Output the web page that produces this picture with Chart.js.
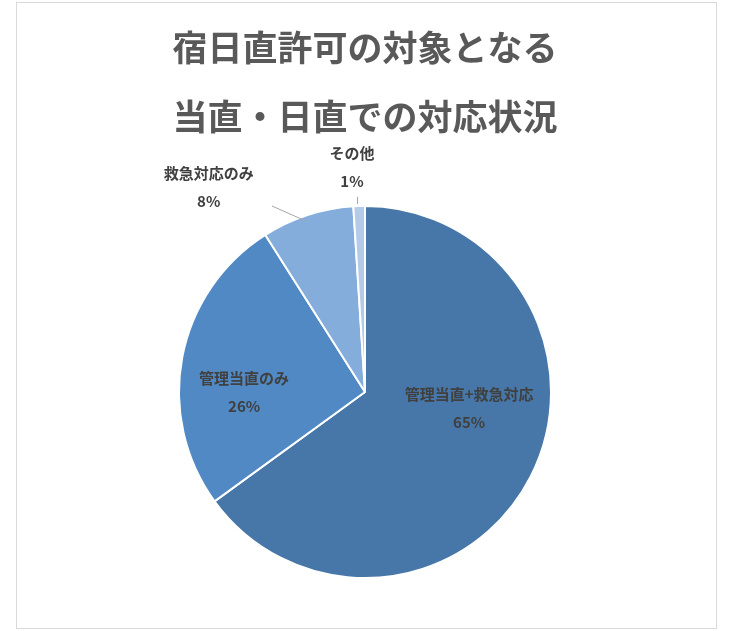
<!DOCTYPE html>
<html><head><meta charset="utf-8">
<script src="https://cdn.jsdelivr.net/npm/chart.js@4"></script>
<style>
html,body{margin:0;padding:0;background:#fff}
#wrap{position:absolute;left:0;top:0;width:735px;height:631px}
#frame{position:absolute;left:16px;top:2px;width:699px;height:625px;border:1px solid #d9d9d9}
</style></head><body>
<div id="frame"></div>
<div id="wrap"><canvas id="c"></canvas></div>
<script>
const titleLines = ['宿日直許可の対象となる', '当直・日直での対応状況'];
const categories = ['管理当直+救急対応', '管理当直のみ', '救急対応のみ', 'その他'];
const values = [65, 26, 8, 1];
const colors = ['#4677A8', '#5089C4', '#84ADDC', '#B4CAE9'];
// label anchors relative to pie centre, in radius units (dx, dy), plus optional leader
const labelPos = [
  { dx: 0.56, dy: 0.09 },
  { dx: -0.65, dy: 0.0 },
  { dx: -0.84, dy: -1.1, leader: [[-0.50, -1.0], [-0.32, -0.92]] },
  { dx: -0.07, dy: -1.21, leader: [[-0.04, -1.05], [-0.04, -1.01]] }
];
const font = '"Noto Sans CJK JP", "Noto Sans", sans-serif';

const labelPlugin = {
  id: 'labels',
  afterDraw(chart) {
    const ctx = chart.ctx;
    ctx.save();
    ctx.fillStyle = '#595959';
    ctx.textAlign = 'center';
    ctx.textBaseline = 'middle';
    ctx.font = 'bold 35px ' + font;
    ctx.fillText(titleLines[0], 365, 48);
    ctx.fillText(titleLines[1], 365, 117);
    const arc = chart.getDatasetMeta(0).data[0];
    const cx = arc.x, cy = arc.y, r = arc.outerRadius;
    ctx.font = 'bold 15px ' + font;
    ctx.fillStyle = '#404040';
    categories.forEach((cat, i) => {
      const p = labelPos[i];
      const x = cx + p.dx * r, y = cy + p.dy * r;
      ctx.fillText(cat, x, y - 14);
      ctx.fillText(values[i] + '%', x, y + 14);
      if (p.leader) {
        ctx.strokeStyle = '#a6a6a6';
        ctx.lineWidth = 1;
        ctx.beginPath();
        ctx.moveTo(cx + p.leader[0][0] * r, cy + p.leader[0][1] * r);
        ctx.lineTo(cx + p.leader[1][0] * r, cy + p.leader[1][1] * r);
        ctx.stroke();
      }
    });
    ctx.restore();
  }
};

new Chart(document.getElementById('c'), {
  type: 'pie',
  data: {
    labels: categories,
    datasets: [{ data: values, backgroundColor: colors, borderColor: '#fff', borderWidth: 2 }]
  },
  options: {
    responsive: true, maintainAspectRatio: false, animation: false,
    layout: { padding: { top: 205, bottom: 52, left: 178, right: 183 } },
    plugins: { legend: { display: false }, tooltip: { enabled: false }, title: { display: false } }
  },
  plugins: [labelPlugin]
});
</script>
</body></html>
